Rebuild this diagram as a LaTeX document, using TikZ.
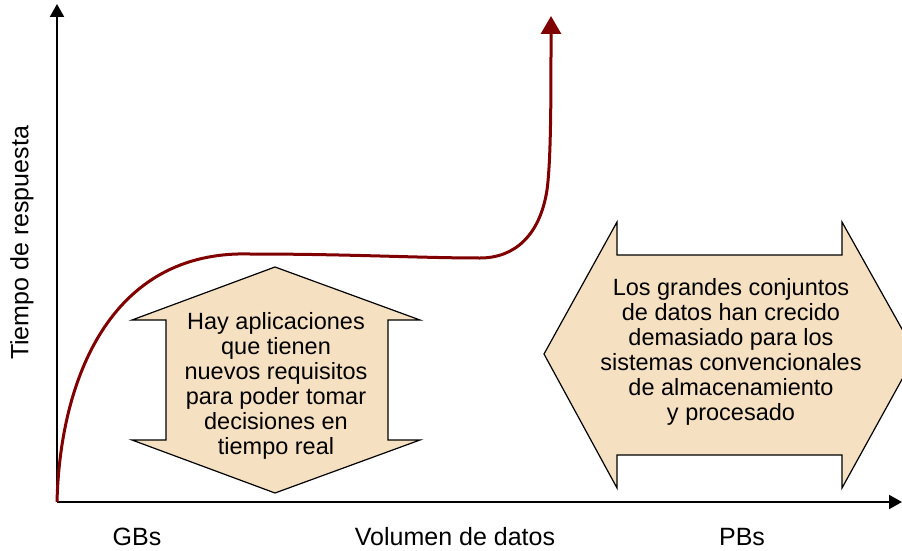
\documentclass[tikz,border=0pt]{standalone}
\usepackage{fontspec}
\setmainfont{Liberation Sans}
\usetikzlibrary{arrows.meta}
\definecolor{boxfill}{RGB}{245,224,193}
\definecolor{curvered}{RGB}{128,0,0}
\tikzset{
  axisline/.style={line width=2pt,-{Triangle[length=13pt,width=14pt]}},
  growth/.style={line width=3pt,curvered,-{Triangle[length=18pt,width=20pt]}},
  arrowbox/.style={draw=black,line width=1.2pt,fill=boxfill,line join=miter},
  boxtext/.style={align=center,font=\fontsize{23.5}{25}\selectfont,inner sep=0pt},
  axislabel/.style={font=\fontsize{25}{28}\selectfont,inner sep=0pt}
}
\begin{document}
\begin{tikzpicture}[x=1pt,y=-1pt]
\useasboundingbox (0,0) rectangle (902,551);
\clip (0,0) rectangle (902,551);
\coordinate (O) at (57,502);
\coordinate (ytop) at (57,4);
\coordinate (xend) at (902,502);
% up-down arrow box
\draw[arrowbox] (275,267) -- (420,320) -- (388,320) -- (388,440) -- (420,440)
  -- (275,493) -- (132,440) -- (166,440) -- (166,320) -- (132,320) -- cycle;
% left-right arrow box
\draw[arrowbox] (544,354) -- (617,222) -- (617,255) -- (842,255) -- (842,222)
  -- (916,354) -- (842,488) -- (842,455) -- (617,455) -- (617,488) -- cycle;
% axes
\draw[axisline] (O) -- (ytop);
\draw[axisline] (O) -- (xend);
% curve
\coordinate (ctop) at (551,16);
\draw[growth] (O) .. controls (60,380) and (110,250) .. (250,254)
  .. controls (350,254) and (420,258) .. (480,258)
  .. controls (515,258) and (540,235) .. (547,190)
  .. controls (551,160) and (551,100) .. (ctop);
% texts
\node[boxtext] (t1) at (276,386) {Hay aplicaciones\\que tienen\\nuevos requisitos\\para poder tomar\\decisiones en\\tiempo real};
\node[boxtext] (t2) at (731,352) {Los grandes conjuntos\\de datos han crecido\\demasiado para los\\sistemas convencionales\\de almacenamiento\\y procesado};
\node[axislabel] (gb) at (137,537) {GBs};
\node[axislabel] (vol) at (455,537) {Volumen de datos};
\node[axislabel] (pb) at (742,537) {PBs};
\node[axislabel,rotate=90] (tr) at (22,243) {Tiempo de respuesta};
\end{tikzpicture}
\end{document}
